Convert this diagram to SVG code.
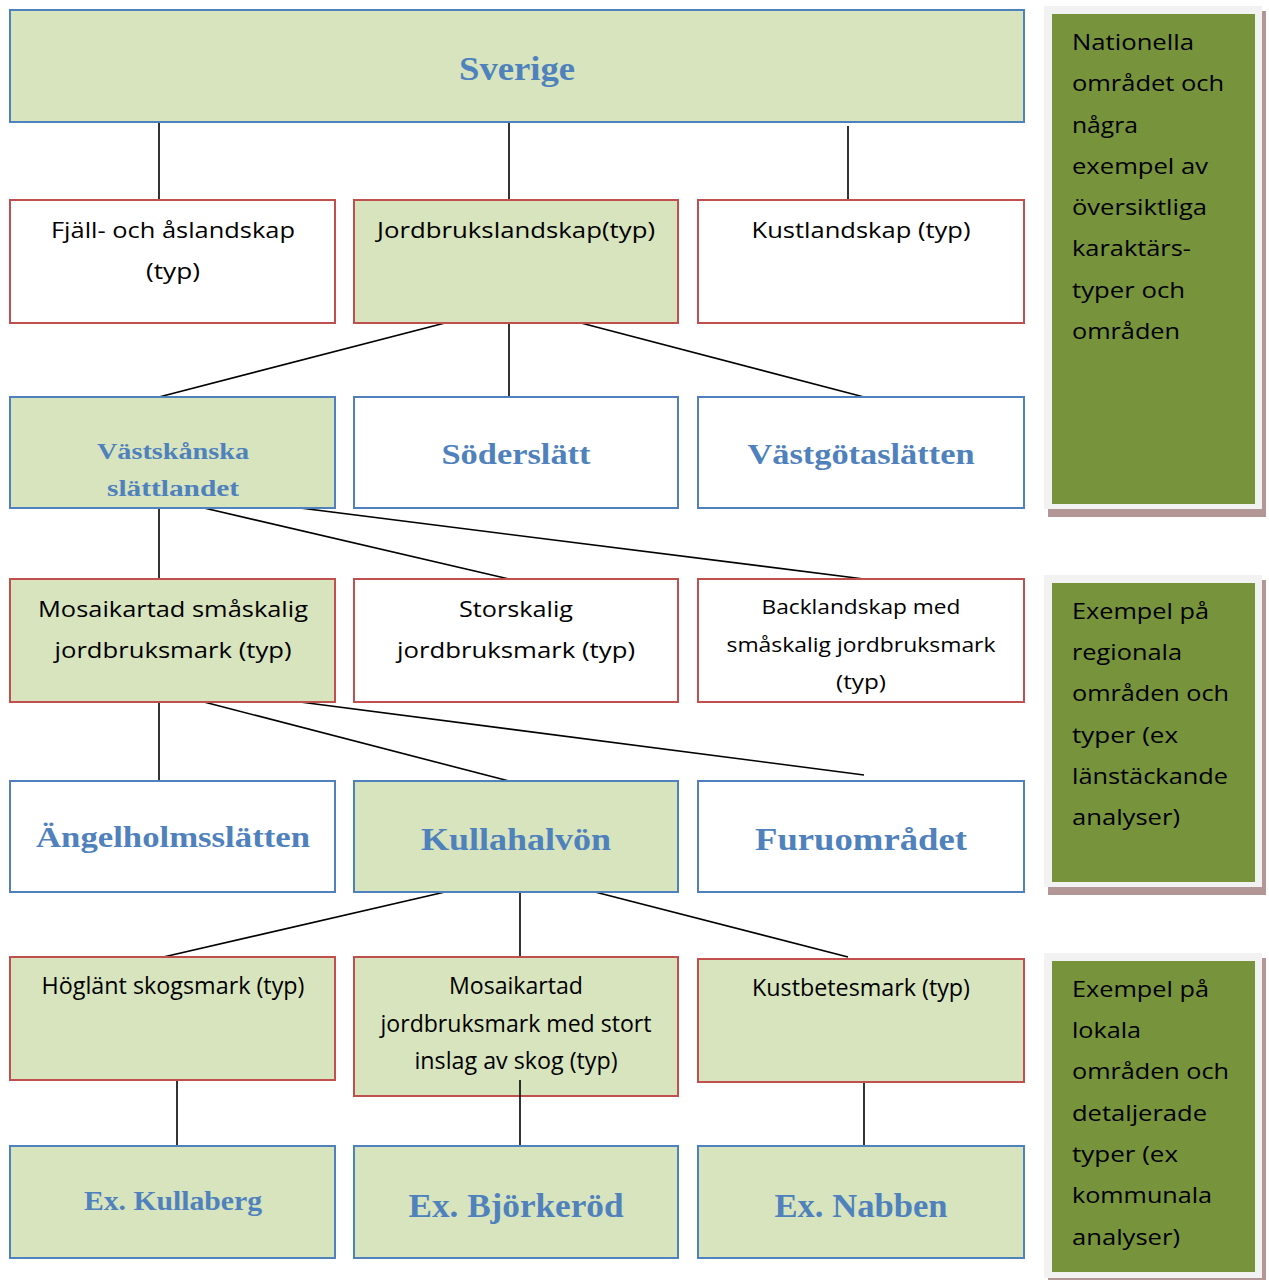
<svg xmlns="http://www.w3.org/2000/svg" width="1269" height="1280" viewBox="0 0 1269 1280">
<style>
.bg{fill:#ffffff}
.g{fill:#D7E4BD}
.w{fill:#ffffff}
.bb{stroke:#4F81BD;stroke-width:2}
.rb{stroke:#C0504D;stroke-width:2}
.t{font-family:"Open Sans","Liberation Sans",sans-serif;font-size:22px;fill:#000;text-anchor:middle}
.ts{font-family:"Open Sans","Liberation Sans",sans-serif;font-size:20px;fill:#000;text-anchor:middle}
.tc{font-family:"Open Sans","Liberation Sans",sans-serif;font-size:23px;fill:#000;text-anchor:middle}
.h{font-family:"Liberation Serif","DejaVu Serif",serif;font-weight:bold;fill:#4F81BD;text-anchor:middle}
.p{font-family:"Open Sans","Liberation Sans",sans-serif;font-size:22px;fill:#000}
.shadow{fill:#B39696}
.frame{fill:#F2F2F2}
.panel{fill:#77933C}
#connectors line{stroke:#000;stroke-width:1.6}
</style>
<rect class="bg" x="0" y="0" width="1269" height="1280"/>

<g id="connectors">
<line x1="159" y1="122" x2="159" y2="200"/>
<line x1="509" y1="122" x2="509" y2="200"/>
<line x1="848" y1="126" x2="848" y2="205"/>
<line x1="445" y1="323" x2="159" y2="397"/>
<line x1="509" y1="323" x2="509" y2="397"/>
<line x1="581" y1="323" x2="864" y2="397"/>
<line x1="159" y1="508" x2="159" y2="579"/>
<line x1="204" y1="508" x2="509" y2="579"/>
<line x1="300" y1="508" x2="864" y2="579"/>
<line x1="159" y1="702" x2="159" y2="781"/>
<line x1="204" y1="702" x2="509" y2="781"/>
<line x1="300" y1="702" x2="864" y2="775"/>
<line x1="445" y1="892" x2="159" y2="958"/>
<line x1="520" y1="892" x2="520" y2="957"/>
<line x1="595" y1="892" x2="848" y2="957"/>
<line x1="177" y1="1080" x2="177" y2="1146"/>
<line x1="864" y1="1082" x2="864" y2="1146"/>
</g>

<g id="sverige"><rect class="g bb" x="10" y="10" width="1014" height="112"/><text class="h" x="517" y="80" font-size="34" textLength="116" lengthAdjust="spacingAndGlyphs">Sverige</text></g>

<g id="fjall"><rect class="w rb" x="10" y="200" width="325" height="123"/><text class="t" x="173" y="238" textLength="244" lengthAdjust="spacingAndGlyphs">Fjäll- och åslandskap</text><text class="t" x="173" y="279" textLength="54" lengthAdjust="spacingAndGlyphs">(typ)</text></g>

<g id="jordbruk"><rect class="g rb" x="354" y="200" width="324" height="123"/><text class="t" x="516" y="238" textLength="278" lengthAdjust="spacingAndGlyphs">Jordbrukslandskap(typ)</text></g>

<g id="kust"><rect class="w rb" x="698" y="200" width="326" height="123"/><text class="t" x="861" y="238" textLength="219" lengthAdjust="spacingAndGlyphs">Kustlandskap (typ)</text></g>

<g id="vastskanska"><rect class="g bb" x="10" y="397" width="325" height="111"/><text class="h" x="173" y="459" font-size="24" textLength="152" lengthAdjust="spacingAndGlyphs">Västskånska</text><text class="h" x="173" y="496" font-size="24" textLength="132" lengthAdjust="spacingAndGlyphs">slättlandet</text></g>

<g id="soderslatt"><rect class="w bb" x="354" y="397" width="324" height="111"/><text class="h" x="516" y="464" font-size="30" textLength="149" lengthAdjust="spacingAndGlyphs">Söderslätt</text></g>

<g id="vastgota"><rect class="w bb" x="698" y="397" width="326" height="111"/><text class="h" x="861" y="464" font-size="30" textLength="227" lengthAdjust="spacingAndGlyphs">Västgötaslätten</text></g>

<g id="mosaik"><rect class="g rb" x="10" y="579" width="325" height="123"/><text class="t" x="173" y="617" textLength="270" lengthAdjust="spacingAndGlyphs">Mosaikartad småskalig</text><text class="t" x="173" y="658" textLength="237" lengthAdjust="spacingAndGlyphs">jordbruksmark (typ)</text></g>

<g id="storskalig"><rect class="w rb" x="354" y="579" width="324" height="123"/><text class="t" x="516" y="617" textLength="114" lengthAdjust="spacingAndGlyphs">Storskalig</text><text class="t" x="516" y="658" textLength="238" lengthAdjust="spacingAndGlyphs">jordbruksmark (typ)</text></g>

<g id="backland"><rect class="w rb" x="698" y="579" width="326" height="123"/><text class="ts" x="861" y="614" textLength="199" lengthAdjust="spacingAndGlyphs">Backlandskap med</text><text class="ts" x="861" y="652" textLength="269" lengthAdjust="spacingAndGlyphs">småskalig jordbruksmark</text><text class="ts" x="861" y="689" textLength="50" lengthAdjust="spacingAndGlyphs">(typ)</text></g>

<g id="angelholm"><rect class="w bb" x="10" y="781" width="325" height="111"/><text class="h" x="173" y="847" font-size="30" textLength="274" lengthAdjust="spacingAndGlyphs">Ängelholmsslätten</text></g>

<g id="kullahalvon"><rect class="g bb" x="354" y="781" width="324" height="111"/><text class="h" x="516" y="850" font-size="31" textLength="190" lengthAdjust="spacingAndGlyphs">Kullahalvön</text></g>

<g id="furu"><rect class="w bb" x="698" y="781" width="326" height="111"/><text class="h" x="861" y="850" font-size="31" textLength="212" lengthAdjust="spacingAndGlyphs">Furuområdet</text></g>

<g id="hoglant"><rect class="g rb" x="10" y="957" width="325" height="123"/><text class="tc" x="173" y="994" textLength="263" lengthAdjust="spacingAndGlyphs">Höglänt skogsmark (typ)</text></g>

<g id="mosaikskog"><rect class="g rb" x="354" y="957" width="324" height="139"/><text class="tc" x="516" y="994" textLength="134" lengthAdjust="spacingAndGlyphs">Mosaikartad</text><text class="tc" x="516" y="1032" textLength="271" lengthAdjust="spacingAndGlyphs">jordbruksmark med stort</text><text class="tc" x="516" y="1069" textLength="203" lengthAdjust="spacingAndGlyphs">inslag av skog (typ)</text></g>
<line x1="520" y1="1080" x2="520" y2="1146" stroke="#000" stroke-width="1.6"/>

<g id="kustbetes"><rect class="g rb" x="698" y="959" width="326" height="123"/><text class="tc" x="861" y="996" textLength="218" lengthAdjust="spacingAndGlyphs">Kustbetesmark (typ)</text></g>

<g id="kullaberg"><rect class="g bb" x="10" y="1146" width="325" height="112"/><text class="h" x="173" y="1210" font-size="28" textLength="178" lengthAdjust="spacingAndGlyphs">Ex. Kullaberg</text></g>

<g id="bjorkerod"><rect class="g bb" x="354" y="1146" width="324" height="112"/><text class="h" x="516" y="1217" font-size="33" textLength="215" lengthAdjust="spacingAndGlyphs">Ex. Björkeröd</text></g>

<g id="nabben"><rect class="g bb" x="698" y="1146" width="326" height="112"/><text class="h" x="861" y="1217" font-size="33" textLength="173" lengthAdjust="spacingAndGlyphs">Ex. Nabben</text></g>

<g id="panel1">
<rect class="shadow" x="1048" y="11" width="218" height="506"/>
<rect class="frame" x="1044" y="6" width="218" height="503"/>
<rect class="panel" x="1052" y="14" width="203" height="490"/>
<text class="p" x="1072" y="50" textLength="122" lengthAdjust="spacingAndGlyphs">Nationella</text>
<text class="p" x="1072" y="91" textLength="152" lengthAdjust="spacingAndGlyphs">området och</text>
<text class="p" x="1072" y="133" textLength="66" lengthAdjust="spacingAndGlyphs">några</text>
<text class="p" x="1072" y="174" textLength="136" lengthAdjust="spacingAndGlyphs">exempel av</text>
<text class="p" x="1072" y="215" textLength="135" lengthAdjust="spacingAndGlyphs">översiktliga</text>
<text class="p" x="1072" y="256" textLength="119" lengthAdjust="spacingAndGlyphs">karaktärs-</text>
<text class="p" x="1072" y="298" textLength="113" lengthAdjust="spacingAndGlyphs">typer och</text>
<text class="p" x="1072" y="339" textLength="108" lengthAdjust="spacingAndGlyphs">områden</text>
</g>

<g id="panel2">
<rect class="shadow" x="1048" y="580" width="218" height="315"/>
<rect class="frame" x="1044" y="575" width="218" height="312"/>
<rect class="panel" x="1052" y="583" width="203" height="299"/>
<text class="p" x="1072" y="619" textLength="137" lengthAdjust="spacingAndGlyphs">Exempel på</text>
<text class="p" x="1072" y="660" textLength="110" lengthAdjust="spacingAndGlyphs">regionala</text>
<text class="p" x="1072" y="701" textLength="157" lengthAdjust="spacingAndGlyphs">områden och</text>
<text class="p" x="1072" y="743" textLength="106" lengthAdjust="spacingAndGlyphs">typer (ex</text>
<text class="p" x="1072" y="784" textLength="156" lengthAdjust="spacingAndGlyphs">länstäckande</text>
<text class="p" x="1072" y="825" textLength="108" lengthAdjust="spacingAndGlyphs">analyser)</text>
</g>

<g id="panel3">
<rect class="shadow" x="1048" y="958" width="218" height="330"/>
<rect class="frame" x="1044" y="953" width="218" height="325"/>
<rect class="panel" x="1052" y="961" width="203" height="311"/>
<text class="p" x="1072" y="997" textLength="137" lengthAdjust="spacingAndGlyphs">Exempel på</text>
<text class="p" x="1072" y="1038" textLength="69" lengthAdjust="spacingAndGlyphs">lokala</text>
<text class="p" x="1072" y="1079" textLength="157" lengthAdjust="spacingAndGlyphs">områden och</text>
<text class="p" x="1072" y="1121" textLength="135" lengthAdjust="spacingAndGlyphs">detaljerade</text>
<text class="p" x="1072" y="1162" textLength="106" lengthAdjust="spacingAndGlyphs">typer (ex</text>
<text class="p" x="1072" y="1203" textLength="140" lengthAdjust="spacingAndGlyphs">kommunala</text>
<text class="p" x="1072" y="1245" textLength="108" lengthAdjust="spacingAndGlyphs">analyser)</text>
</g>
</svg>
